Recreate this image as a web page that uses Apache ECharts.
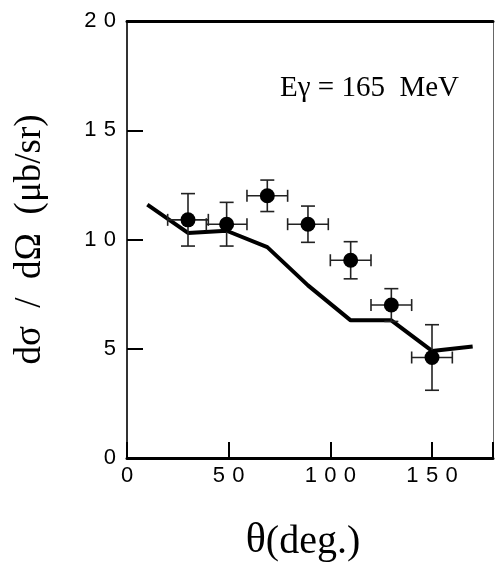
<!DOCTYPE html>
<html>
<head>
<meta charset="utf-8">
<script src="https://cdn.jsdelivr.net/npm/echarts@6/dist/echarts.min.js"></script>
<style>
  html, body { margin: 0; padding: 0; background: #fff; }
  #chart { width: 496px; height: 572px; }
</style>
</head>
<body>
<div id="chart"></div>
<script>
// measured points (angle in deg, cross section in ub/sr)
const angles = [30, 49, 69, 89, 110, 130, 150];
const angleErr = [10, 10, 10, 10, 10, 10, 10];
const sigma = [10.9, 10.7, 12.0, 10.7, 9.05, 7.0, 4.6];
const sigmaErr = [1.2, 1.0, 0.72, 0.83, 0.85, 0.75, 1.5];

// calculation curve
const calcAngles = [10, 30, 49, 69, 89, 110, 130, 150, 170];
const calcSigma = [11.6, 10.3, 10.4, 9.65, 7.9, 6.3, 6.3, 4.9, 5.1];

const xTicks = [0, 50, 100, 150];
const yTicks = [0, 5, 10, 15, 20];

const spaced = v => String(v).split('').join('\u2004');

const chart = echarts.init(document.getElementById('chart'), null, { renderer: 'canvas' });

const pts = angles.map((a, i) => [a, sigma[i]]);
const errData = angles.map((a, i) => [a, sigma[i], angleErr[i], sigmaErr[i]]);

chart.setOption({
  animation: false,
  grid: { left: 127, right: 1, top: 21, bottom: 114 },
  xAxis: [{
    type: 'value', min: 0, max: 180, interval: 50,
    axisLine: { lineStyle: { color: '#000', width: 3 } },
    axisTick: { inside: true, length: 16, lineStyle: { color: '#000', width: 2 } },
    axisLabel: {
      margin: 7, color: '#000', fontFamily: 'Liberation Sans', fontSize: 22,
      formatter: v => xTicks.includes(v) ? spaced(v) : ''
    },
    splitLine: { show: false },
    name: '{t|θ}{d|(deg.)}',
    nameLocation: 'middle', nameGap: 62,
    nameTextStyle: {
      padding: [0, 0, 0, -14],
      rich: {
        t: { fontFamily: 'Liberation Serif', fontSize: 42, color: '#000', verticalAlign: 'bottom' },
        d: { fontFamily: 'Liberation Serif', fontSize: 40, color: '#000', verticalAlign: 'bottom' }
      }
    }
  }, {
    type: 'value', position: 'top', min: 0, max: 180,
    axisLine: { onZero: false, lineStyle: { color: '#000', width: 3 } },
    axisTick: { show: false }, axisLabel: { show: false }, splitLine: { show: false }
  }],
  yAxis: [{
    type: 'value', min: 0, max: 20, interval: 5,
    axisLine: { lineStyle: { color: '#333', width: 2 } },
    axisTick: { inside: true, length: 16, lineStyle: { color: '#000', width: 2 } },
    axisLabel: {
      margin: 11, color: '#000', fontFamily: 'Liberation Sans', fontSize: 22,
      formatter: v => yTicks.includes(v) ? spaced(v) : ''
    },
    splitLine: { show: false },
    name: 'dσ  /  dΩ  (μb/sr)',
    nameLocation: 'middle', nameRotate: 90, nameGap: 78,
    nameTextStyle: { fontFamily: 'Liberation Serif', fontSize: 37, color: '#000' }
  }, {
    type: 'value', position: 'right', min: 0, max: 20,
    axisLine: { show: true, onZero: false, lineStyle: { color: '#666', width: 1 } },
    axisTick: { show: false }, axisLabel: { show: false }, splitLine: { show: false }
  }],
  graphic: [{
    type: 'text', left: 280, top: 74,
    style: { text: 'Eγ = 165  MeV', font: '29px "Liberation Serif"', fill: '#000' }
  }],
  series: [{
    type: 'line',
    data: calcAngles.map((a, i) => [a, calcSigma[i]]),
    showSymbol: false,
    lineStyle: { color: '#000', width: 4 },
    z: 2
  }, {
    type: 'custom',
    data: errData,
    z: 3,
    renderItem: (params, api) => {
      const x = api.value(0), y = api.value(1), dx = api.value(2), dy = api.value(3);
      const l = api.coord([x - dx, y]);
      const r = api.coord([x + dx, y]);
      const t = api.coord([x, y + dy]);
      const b = api.coord([x, y - dy]);
      const st = { stroke: '#222', lineWidth: 1.6 };
      const cap = 7, vcap = 6;
      return {
        type: 'group',
        children: [
          { type: 'line', shape: { x1: l[0], y1: l[1], x2: r[0], y2: r[1] }, style: st },
          { type: 'line', shape: { x1: t[0], y1: t[1], x2: b[0], y2: b[1] }, style: st },
          { type: 'line', shape: { x1: t[0] - cap, y1: t[1], x2: t[0] + cap, y2: t[1] }, style: st },
          { type: 'line', shape: { x1: b[0] - cap, y1: b[1], x2: b[0] + cap, y2: b[1] }, style: st },
          { type: 'line', shape: { x1: l[0], y1: l[1] - vcap, x2: l[0], y2: l[1] + vcap }, style: st },
          { type: 'line', shape: { x1: r[0], y1: r[1] - vcap, x2: r[0], y2: r[1] + vcap }, style: st }
        ]
      };
    }
  }, {
    type: 'scatter',
    data: pts,
    symbol: 'circle',
    symbolSize: 15,
    itemStyle: { color: '#000', opacity: 1 },
    z: 4
  }]
});
</script>
</body>
</html>
